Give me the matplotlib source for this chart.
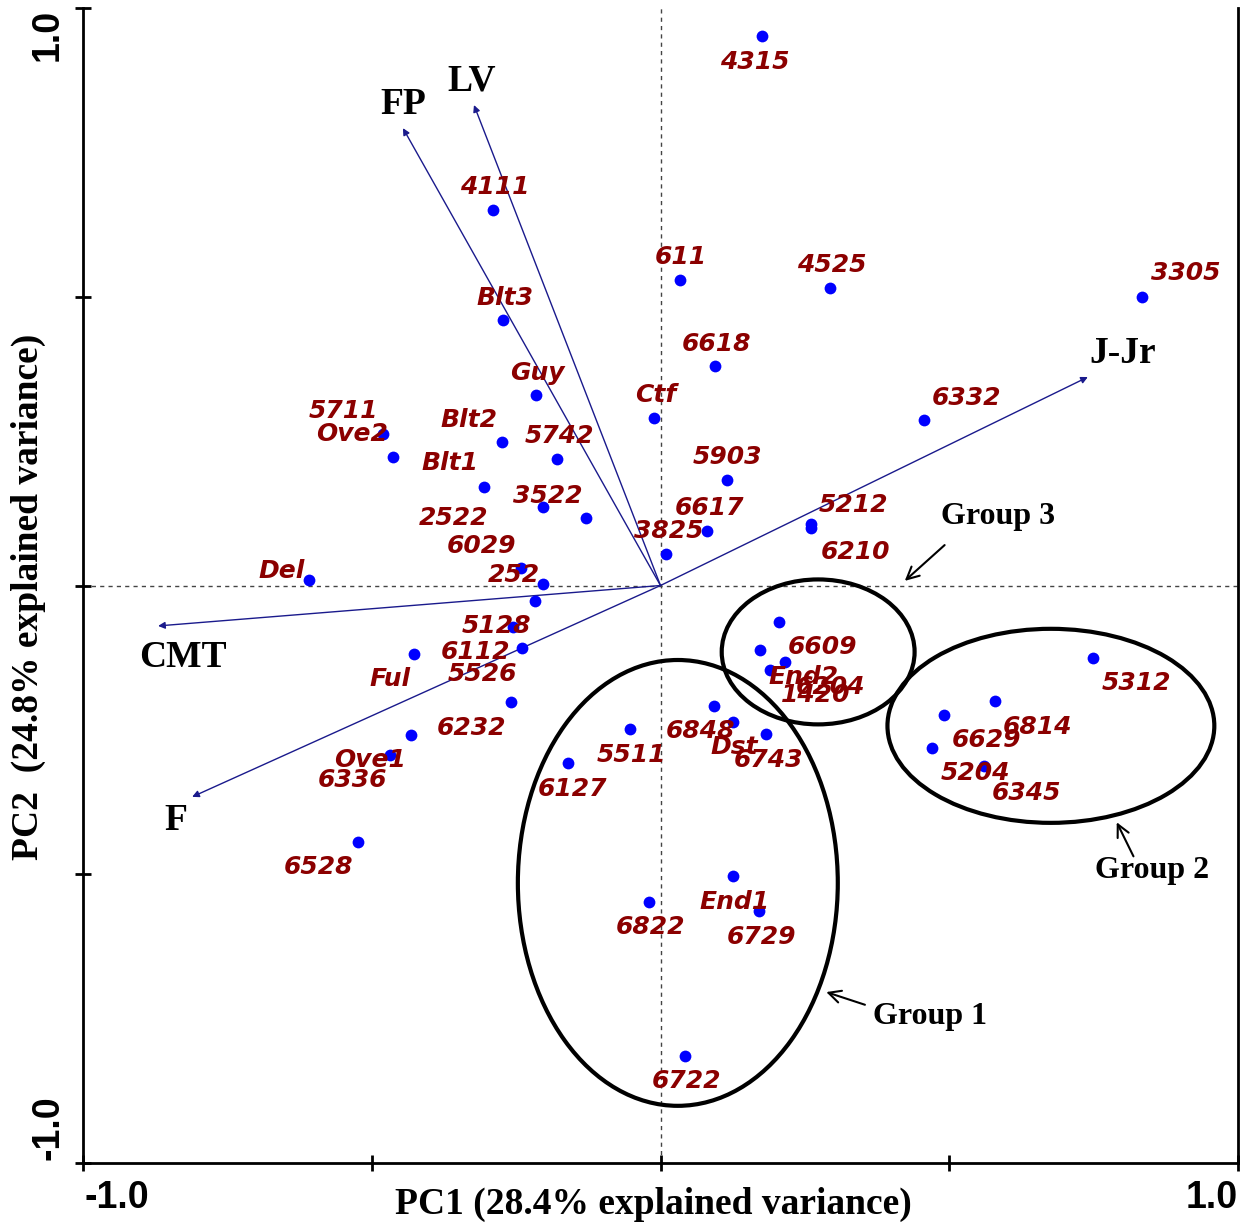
import matplotlib.pyplot as plt
from matplotlib.patches import Ellipse

# PCA biplot: genotype scores (PC1, PC2)
names = ['4315', '4111', '611', '4525', '3305', 'Blt3', '6618', 'Guy', 'Ctf', '6332',
         '5711', 'Ove2', 'Blt2', '5742', '5903', 'Blt1', '3522', '2522', '6617', '5212',
         '6210', '3825', '6029', '252', 'Del', '5128', '6112', '5526', 'Ful', '6232',
         'Ove1', '6336', '6528', '6127', '5511', '6609', 'End2', '6204', '1420', '6848',
         'Dst', '6743', '5312', '6814', '6629', '5204', '6345', 'End1', '6822', '6729',
         '6722']
pc1 = [0.176, -0.290, 0.034, 0.293, 0.834, -0.273, 0.094, -0.216, -0.011, 0.456,
       -0.481, -0.463, -0.274, -0.179, 0.115, -0.306, -0.203, -0.129, 0.080, 0.260,
       0.260, 0.010, -0.242, -0.203, -0.609, -0.217, -0.255, -0.240, -0.427, -0.259,
       -0.432, -0.468, -0.524, -0.160, -0.053, 0.205, 0.172, 0.216, 0.190, 0.093,
       0.125, 0.183, 0.749, 0.579, 0.491, 0.470, 0.560, 0.125, -0.020, 0.171,
       0.042]
pc2 = [0.952, 0.650, 0.529, 0.515, 0.500, 0.460, 0.380, 0.330, 0.290, 0.287,
       0.262, 0.222, 0.248, 0.219, 0.183, 0.171, 0.136, 0.117, 0.094, 0.106,
       0.100, 0.055, 0.030, 0.003, 0.010, -0.027, -0.072, -0.108, -0.119, -0.202,
       -0.259, -0.294, -0.444, -0.307, -0.248, -0.063, -0.112, -0.132, -0.146, -0.209,
       -0.237, -0.258, -0.126, -0.200, -0.224, -0.281, -0.313, -0.503, -0.548, -0.564,
       -0.815]

# label offsets in pixels (dx, dy) relative to each point
label_off = [(-7, -26), (2, 23), (1, 23), (2, 23), (44, 24), (2, 22), (2, 22), (2, 22), (2, 23), (43, 22),
             (-39, 23), (-41, 23), (-33, 22), (2, 23), (1, 23), (-34, 24), (4, 11), (-132, 0), (3, 23), (43, 19),
             (45, -24), (2, 23), (-39, 22), (-29, 9), (-27, 9), (-39, -25), (-38, -25), (-39, -26), (-24, -25),
             (-39, -26), (-41, -25), (-38, -25), (-39, -25), (4, -26), (2, -26), (44, -25), (44, -27), (45, -25),
             (45, -25), (-14, -25), (2, -25), (2, -26), (43, -25), (43, -26), (42, -25), (43, -25), (43, -27),
             (2, -26), (2, -25), (2, -26), (2, -25)]

# variable loadings
var_names = ['FP', 'LV', 'J-Jr', 'CMT', 'F']
var_pc1 = [-0.446, -0.323, 0.740, -0.870, -0.811]
var_pc2 = [0.792, 0.832, 0.361, -0.070, -0.366]
var_off = [(0, 24), (-2, 24), (35, 24), (25, -32), (-16, -24)]

# groups
groups = ['Group 1', 'Group 2', 'Group 3']
g_center = [(0.030, -0.515), (0.676, -0.243), (0.273, -0.115)]
g_size = [(0.554, 0.772), (0.566, 0.336), (0.334, 0.251)]

fig = plt.figure(figsize=(12.55, 12.26), dpi=100)
ax = fig.add_axes([83 / 1255, 63 / 1226, 1155 / 1255, 1155 / 1226])
ax.set_xlim(-1, 1)
ax.set_ylim(-1, 1)

ax.axhline(0, color='#444444', lw=1, ls=(0, (3, 3)), zorder=1)
ax.axvline(0, color='#444444', lw=1, ls=(0, (3, 3)), zorder=1)

for n, x, y, (dx, dy) in zip(var_names, var_pc1, var_pc2, var_off):
    ax.annotate('', xy=(x, y), xytext=(0, 0),
                arrowprops=dict(arrowstyle='-|>', color='#1a1a8c', lw=1, mutation_scale=10,
                                shrinkA=0, shrinkB=0), zorder=2)
    ax.annotate(n, xy=(x, y), xytext=(dx, dy), textcoords='offset pixels',
                ha='center', va='center', family='Liberation Serif', fontweight='bold',
                fontsize=27, color='black')

ax.scatter(pc1, pc2, s=72, color='#0000ff', zorder=3, linewidths=0)
for n, x, y, (dx, dy) in zip(names, pc1, pc2, label_off):
    ax.annotate(n, xy=(x, y), xytext=(dx, dy), textcoords='offset pixels',
                ha='center', va='center', family='DejaVu Sans', fontweight='bold',
                style='italic', fontsize=18, color='#8b0000', zorder=4)

for (cx, cy), (w, h) in zip(g_center, g_size):
    ax.add_patch(Ellipse((cx, cy), w, h, fill=False, ec='black', lw=3, zorder=5))

# group captions with pointers
g_text = [(0.467, -0.747), (0.851, -0.494), (0.584, 0.119)]
g_tail = [(0.354, -0.726), (0.819, -0.469), (0.492, 0.070)]
g_tip = [(0.287, -0.704), (0.790, -0.410), (0.423, 0.008)]
for g, t, a, b in zip(groups, g_text, g_tail, g_tip):
    ax.text(t[0], t[1], g, ha='center', va='center', family='Liberation Serif',
            fontweight='bold', fontsize=23)
    ax.annotate('', xy=b, xytext=a,
                arrowprops=dict(arrowstyle='->', color='black', lw=1.5, mutation_scale=22,
                                shrinkA=0, shrinkB=0))

ax.spines['top'].set_visible(False)
for s in ['left', 'bottom', 'right']:
    ax.spines[s].set_linewidth(2)
ax.set_xticks([-1, -0.5, 0, 0.5, 1])
ax.set_yticks([-1, -0.5, 0, 0.5, 1])
ax.set_xticklabels([])
ax.set_yticklabels([])
ax.tick_params(direction='inout', length=12, width=2)

tick_font = dict(family='Liberation Sans', fontweight='bold', fontsize=27)
fig.text(84 / 1255, 1 - 1198 / 1226, '-1.0', ha='left', va='center', **tick_font)
fig.text(1238 / 1255, 1 - 1198 / 1226, '1.0', ha='right', va='center', **tick_font)
fig.text(48 / 1255, 1 - 35 / 1226, '1.0', ha='center', va='center', rotation=90, **tick_font)
fig.text(48 / 1255, 1 - 1128 / 1226, '-1.0', ha='center', va='center', rotation=90, **tick_font)

lab_font = dict(family='Liberation Serif', fontweight='bold', fontsize=27)
fig.text(653 / 1255, 1 - 1204 / 1226, 'PC1 (28.4% explained variance)', ha='center', va='center', **lab_font)
fig.text(28 / 1255, 1 - 597 / 1226, 'PC2  (24.8% explained variance)', ha='center', va='center',
         rotation=90, **lab_font)

fig.savefig('out.png', dpi=100)
